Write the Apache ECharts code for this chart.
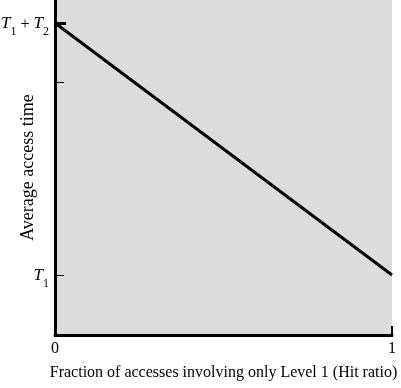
<!DOCTYPE html>
<html><head><meta charset="utf-8">
<script src="https://cdn.jsdelivr.net/npm/echarts@6/dist/echarts.min.js"></script>
<style>html,body{margin:0;padding:0;background:#fff}#c{width:401px;height:388px}</style>
</head><body><div id="c"></div>
<script>
// data (arbitrary time units)
const hitRatio = [0, 1];
const accessTime = [312, 60];
const yMax = 335;
const tickT1 = 60;
const tickMid = 253;
const tickT1T2 = 312;
const xTicks = [0, 1];
const xName = 'Fraction of accesses involving only Level 1 (Hit ratio)';
const yName = 'Average access time';

const serif = '"Liberation Serif", "DejaVu Serif", serif';
const rich = {
  t: {fontFamily: serif, fontStyle: 'italic', fontSize: 17, color: '#000', padding: [0,0,6,0], verticalAlign: 'bottom'},
  s: {fontFamily: serif, fontSize: 12, color: '#000', verticalAlign: 'bottom'},
  o: {fontFamily: serif, fontSize: 16, color: '#000', padding: [0,0,5,0], verticalAlign: 'bottom'}
};
const chart = echarts.init(document.getElementById('c'), null, {renderer: 'canvas'});
const yBase = {
  type: 'value', min: 0, max: yMax, position: 'left',
  splitLine: {show: false}
};
chart.setOption({
  animation: false,
  backgroundColor: '#fff',
  grid: {left: 55, right: 9, top: 0, bottom: 53, show: true, backgroundColor: '#dcdcdc', borderWidth: 0,
         containLabel: false, outerBoundsMode: 'none'},
  xAxis: {
    type: 'value', min: 0, max: 1,
    name: xName, nameLocation: 'middle', nameGap: 30, nameMoveOverlap: false,
    nameTextStyle: {fontFamily: serif, fontSize: 16, color: '#000'},
    axisLine: {lineStyle: {color: '#000', width: 3}},
    axisTick: {show: true, inside: true, length: 9, lineStyle: {color: '#000', width: 2}, customValues: [1]},
    axisLabel: {customValues: xTicks, fontFamily: serif, fontSize: 16, color: '#000', margin: 6},
    splitLine: {show: false}
  },
  yAxis: [
    Object.assign({}, yBase, {
      name: yName, nameLocation: 'middle', nameGap: 18, nameMoveOverlap: false,
      nameTextStyle: {fontFamily: serif, fontSize: 18, color: '#000'},
      axisLine: {show: true, lineStyle: {color: '#000', width: 3}},
      axisTick: {show: true, inside: true, length: 9, lineStyle: {color: '#000', width: 1}, customValues: [tickT1, tickMid]},
      axisLabel: {customValues: [tickT1, tickT1T2], margin: 6, rich: rich, padding: [7,0,0,0],
        formatter: v => v === tickT1 ? '{t|T}{s|1}' : '{t|T}{s|1}{o| + }{t|T}{s|2}'}
    }),
    Object.assign({}, yBase, {
      axisLine: {show: false},
      axisTick: {show: true, inside: true, length: 11, lineStyle: {color: '#000', width: 3}, customValues: [tickT1T2]},
      axisLabel: {show: false}
    })
  ],
  series: [{
    type: 'line', yAxisIndex: 0,
    data: hitRatio.map((x, i) => [x, accessTime[i]]),
    showSymbol: false, lineStyle: {color: '#000', width: 3}
  }]
});
</script></body></html>
